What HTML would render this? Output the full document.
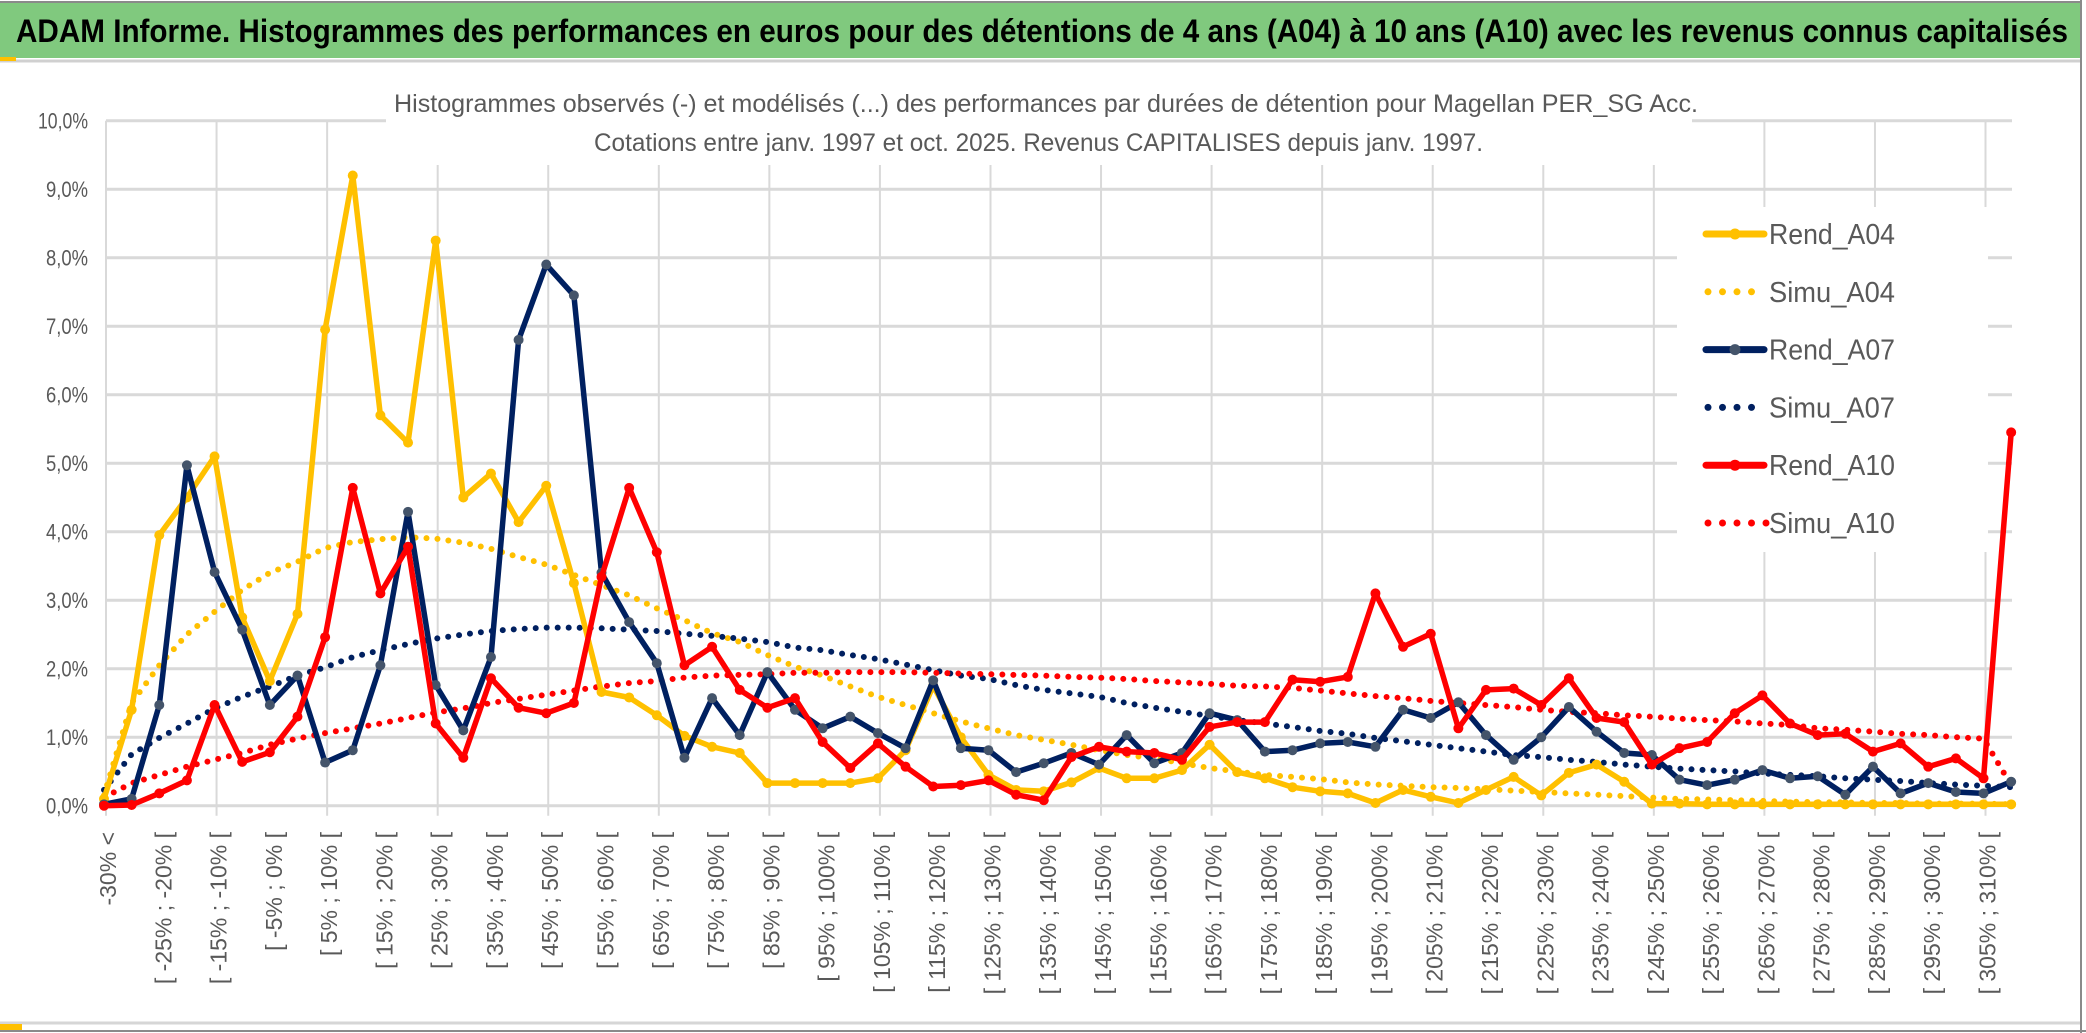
<!DOCTYPE html>
<html><head><meta charset="utf-8"><style>
html,body{margin:0;padding:0;background:#fff;}
svg{display:block;font-family:"Liberation Sans",sans-serif;}
</style></head><body>
<svg id="chart" width="2086" height="1033" viewBox="0 0 2086 1033" xmlns="http://www.w3.org/2000/svg">
<rect x="0" y="0" width="2086" height="1033" fill="#fff"/>
<rect x="0" y="3" width="2080" height="55" fill="#80c97e"/>
<line x1="0" y1="2" x2="2080" y2="2" stroke="#8a8a8a" stroke-width="2"/>
<line x1="0" y1="61" x2="2080" y2="61" stroke="#d0d0d0" stroke-width="3"/>
<line x1="2081" y1="0" x2="2081" y2="1033" stroke="#8a8a8a" stroke-width="2"/>
<line x1="0" y1="1023" x2="2080" y2="1023" stroke="#d6d6d6" stroke-width="3"/>
<line x1="0" y1="1031" x2="2086" y2="1031" stroke="#8a8a8a" stroke-width="2"/>
<rect x="0" y="1024" width="22" height="6" fill="#ffc000"/>
<rect x="0" y="57" width="16" height="4" fill="#ffc000"/>
<text x="16" y="42" font-size="32" font-weight="bold" fill="#000" textLength="2052" lengthAdjust="spacingAndGlyphs">ADAM Informe. Histogrammes des performances en euros pour des détentions de 4 ans (A04) à 10 ans (A10) avec les revenus connus capitalisés</text>
<g id="grid"></g>
<rect x="386" y="68" width="1306" height="97" fill="#fff"/>
<rect x="1677" y="207" width="311" height="345" fill="#fff"/>
<text x="394" y="112" font-size="25" fill="#595959" textLength="1304" lengthAdjust="spacingAndGlyphs">Histogrammes observés (-) et modélisés (...) des performances par durées de détention pour Magellan PER_SG Acc.</text>
<text x="594" y="151" font-size="25" fill="#595959" textLength="889" lengthAdjust="spacingAndGlyphs">Cotations entre janv. 1997 et oct. 2025. Revenus CAPITALISES depuis janv. 1997.</text>
<g id="yaxis"></g>
<g id="xaxis"></g>
<g id="series"></g>
<g id="legend"></g>
</svg>
<script>
const rendA04=[0.1,1.4,3.95,4.5,5.1,2.75,1.82,2.8,6.95,9.2,5.7,5.3,8.25,4.5,4.85,4.14,4.67,3.25,1.66,1.58,1.32,1.02,0.86,0.77,0.33,0.33,0.33,0.33,0.4,0.81,1.75,1.0,0.45,0.23,0.21,0.34,0.55,0.4,0.4,0.52,0.89,0.49,0.4,0.27,0.21,0.18,0.04,0.23,0.13,0.04,0.23,0.42,0.15,0.48,0.6,0.35,0.03,0.03,0.02,0.02,0.02,0.02,0.02,0.02,0.02,0.02,0.02,0.02,0.02,0.02];
const simuA04=[0.15,1.5,2.05,2.5,2.83,3.15,3.4,3.56,3.76,3.85,3.89,3.92,3.9,3.84,3.75,3.63,3.52,3.37,3.22,3.07,2.88,2.71,2.52,2.39,2.2,2.03,1.9,1.74,1.59,1.47,1.35,1.23,1.13,1.03,0.96,0.89,0.81,0.74,0.69,0.62,0.55,0.5,0.45,0.42,0.39,0.34,0.31,0.29,0.27,0.26,0.24,0.22,0.2,0.18,0.16,0.14,0.12,0.1,0.09,0.08,0.07,0.06,0.05,0.05,0.04,0.04,0.03,0.03,0.03,0.02];
const rendA07=[0.02,0.1,1.47,4.97,3.41,2.57,1.47,1.9,0.63,0.81,2.05,4.29,1.76,1.1,2.17,6.8,7.9,7.45,3.4,2.68,2.08,0.7,1.57,1.03,1.95,1.4,1.13,1.3,1.06,0.84,1.83,0.84,0.81,0.49,0.62,0.77,0.6,1.03,0.62,0.77,1.35,1.25,0.79,0.81,0.91,0.93,0.86,1.4,1.28,1.51,1.03,0.67,1.0,1.44,1.08,0.77,0.74,0.38,0.3,0.38,0.52,0.4,0.43,0.16,0.57,0.18,0.33,0.2,0.18,0.35];
const simuA07=[0.23,0.75,0.99,1.2,1.42,1.59,1.74,1.9,2.02,2.17,2.27,2.36,2.44,2.5,2.55,2.58,2.6,2.6,2.59,2.57,2.55,2.51,2.48,2.44,2.39,2.31,2.27,2.2,2.14,2.06,1.98,1.9,1.85,1.76,1.69,1.64,1.59,1.5,1.43,1.37,1.31,1.25,1.2,1.15,1.09,1.05,0.99,0.94,0.89,0.84,0.79,0.74,0.71,0.67,0.64,0.6,0.57,0.54,0.52,0.5,0.47,0.45,0.43,0.4,0.38,0.36,0.33,0.31,0.29,0.27];
const rendA10=[0.0,0.01,0.18,0.37,1.47,0.64,0.78,1.3,2.46,4.64,3.1,3.78,1.2,0.7,1.86,1.43,1.35,1.5,3.34,4.64,3.7,2.05,2.32,1.69,1.43,1.57,0.93,0.55,0.91,0.57,0.28,0.3,0.37,0.16,0.08,0.71,0.86,0.79,0.77,0.67,1.15,1.22,1.22,1.84,1.81,1.88,3.1,2.32,2.51,1.13,1.69,1.71,1.47,1.86,1.28,1.22,0.6,0.84,0.93,1.35,1.61,1.2,1.03,1.05,0.79,0.91,0.57,0.69,0.4,5.45];
const simuA10=[0.12,0.33,0.45,0.57,0.67,0.77,0.89,0.98,1.06,1.13,1.2,1.28,1.36,1.42,1.5,1.56,1.62,1.68,1.74,1.79,1.82,1.87,1.9,1.91,1.92,1.94,1.94,1.95,1.95,1.95,1.94,1.93,1.92,1.91,1.9,1.88,1.87,1.85,1.82,1.8,1.78,1.75,1.74,1.72,1.68,1.64,1.6,1.57,1.53,1.5,1.47,1.44,1.4,1.37,1.35,1.32,1.3,1.27,1.25,1.23,1.2,1.18,1.13,1.11,1.08,1.05,1.03,1.0,0.98,0.3];
const yTicks=[0,1,2,3,4,5,6,7,8,9,10];
const yTickLabels=["0,0%","1,0%","2,0%","3,0%","4,0%","5,0%","6,0%","7,0%","8,0%","9,0%","10,0%"];
const legendNames=["Rend_A04","Simu_A04","Rend_A07","Simu_A07","Rend_A10","Simu_A10"];

const NS="http://www.w3.org/2000/svg";
const N=rendA04.length;
const X0=104, DX=27.64, Y0=805.7, DY=68.5;
const xs=i=>X0+DX*i;
const ys=v=>Y0-DY*v;
function mk(tag,attrs,parent){const e=document.createElementNS(NS,tag);for(const k in attrs)e.setAttribute(k,attrs[k]);parent.appendChild(e);return e;}
function catLabel(k){if(k===0)return "-30% <";const a=-30+5*(k-1);return "[ "+a+"% ; "+(a+5)+"% [";}

const grid=document.getElementById('grid');
yTicks.forEach(v=>{const l=mk('line',{x1:xs(0)+2,x2:2012,y1:ys(v),y2:ys(v),stroke:'#d9d9d9','stroke-width':3},grid);

});
for(let i=0;i<N;i+=4){const l=mk('line',{x1:xs(i)+2,x2:xs(i)+2,y1:ys(10),y2:Y0+10,stroke:'#d9d9d9','stroke-width':2},grid);

}

const ya=document.getElementById('yaxis');
yTicks.forEach((v,j)=>{const t=mk('text',{x:88,y:ys(v)+8,'font-size':22,fill:'#595959','text-anchor':'end',textLength:yTickLabels[j].length>4?50:42,lengthAdjust:'spacingAndGlyphs'},ya);t.textContent=yTickLabels[j];

});

const xa=document.getElementById('xaxis');
for(let k=0;k<N;k+=2){const x=xs(k)+4;const t=mk('text',{x:0,y:0,'font-size':23,fill:'#595959','text-anchor':'end','dominant-baseline':'central',transform:`translate(${x},832) rotate(-90)`},xa);t.textContent=catLabel(k);

}

const S=document.getElementById('series');
function pts(arr){return arr.map((v,i)=>xs(i).toFixed(1)+','+ys(v).toFixed(1)).join(' ');}
function dotted(arr,color,name){const p=mk('polyline',{points:pts(arr),fill:'none',stroke:color,'stroke-width':6,'stroke-linecap':'round','stroke-dasharray':'0 11'},S);

}
function solid(arr,color,mcolor,name){const g=mk('g',{},S);


mk('polyline',{points:pts(arr),fill:'none',stroke:color,'stroke-width':5.5,'stroke-linejoin':'round'},g);
arr.forEach((v,i)=>{const c=mk('circle',{cx:xs(i),cy:ys(v),r:5,fill:mcolor},g);

});}
dotted(simuA04,'#ffc000','simu-a04-line');
dotted(simuA07,'#002060','simu-a07-line');
dotted(simuA10,'#ff0000','simu-a10-line');
solid(rendA04,'#ffc000','#ffc000','rend-a04-line');
solid(rendA07,'#002060','#44546a','rend-a07-line');
solid(rendA10,'#ff0000','#ff0000','rend-a10-line');

const L=document.getElementById('legend');
const lc=['#ffc000','#ffc000','#002060','#002060','#ff0000','#ff0000'];
legendNames.forEach((n,j)=>{const y=234+57.8*j;const g=mk('g',{},L);


if(j%2===0){mk('line',{x1:1706,x2:1764,y1:y,y2:y,stroke:lc[j],'stroke-width':7,'stroke-linecap':'round'},g);mk('circle',{cx:1735,cy:y,r:5.5,fill:j===2?'#44546a':lc[j]},g);}
else{const nd=j===5?5:4;for(let d=0;d<nd;d++)mk('circle',{cx:1708+d*14.5,cy:y,r:3.5,fill:lc[j]},g);}
const t=mk('text',{x:1769,y:y+10,'font-size':29,fill:'#595959',textLength:126,lengthAdjust:'spacingAndGlyphs'},g);t.textContent=n;});
</script>
</body></html>
